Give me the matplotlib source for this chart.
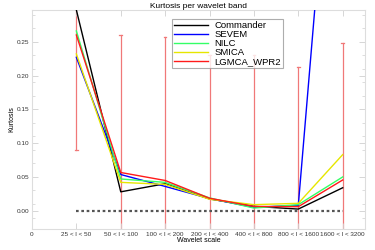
import matplotlib
matplotlib.use("Agg")
from matplotlib import pyplot as plt
from matplotlib.ticker import FixedLocator
import numpy as np

plt.rcParams['font.family'] = ['Liberation Sans', 'DejaVu Sans']

# wavelet bands (x positions 1..7)
bands = ["25 < l < 50", "50 < l < 100", "100 < l < 200", "200 < l < 400",
         "400 < l < 800", "800 < l < 1600", "1600 < l < 3200"]

commander = [0.297, 0.028, 0.040, 0.0175, 0.0065, 0.0025, 0.034]
sevem = [0.227, 0.0536, 0.036, 0.018, 0.005, 0.008, 0.79]
nilc = [0.266, 0.047, 0.042, 0.019, 0.004, 0.009, 0.050]
smica = [0.232, 0.042, 0.039, 0.017, 0.009, 0.011, 0.083]
lgmca = [0.260, 0.0566, 0.0448, 0.0185, 0.0064, 0.006, 0.0455]

# error band of the simulations (lower / upper), clipped by the axes
err_low = [0.090, -0.2, -0.2, -0.2, -0.2, -0.2, -0.2]
err_high = [0.5, 0.2595, 0.2565, 0.23, 0.23, 0.2131, 0.2476]

series = [
    ("Commander", commander, "black"),
    ("SEVEM", sevem, "#0000ff"),
    ("NILC", nilc, "#33ff66"),
    ("SMICA", smica, "#e6e600"),
    ("LGMCA_WPR2", lgmca, "#ff1a1a"),
]


def plot_kurtosis():
    fig = plt.figure(figsize=(3.75, 2.5), dpi=100)
    ax = fig.add_axes([0.0853, 0.084, 0.8877, 0.876])

    x = np.arange(1, len(bands) + 1)

    # error bars
    for xi, lo, hi in zip(x, err_low, err_high):
        ax.plot([xi, xi], [lo, hi], color="#f07878", lw=0.9, zorder=1)
        ax.plot([xi - 0.03, xi + 0.03], [hi, hi], color="#f07878", lw=0.9, zorder=1)
        ax.plot([xi - 0.03, xi + 0.03], [lo, lo], color="#f07878", lw=0.9, zorder=1)

    ax.plot([1, 7], [0, 0], color="#555555", ls=(0, (1.2, 1.2)), lw=1.6, zorder=2)

    for label, vals, color in series:
        ax.plot(x, vals, color=color, lw=1.0, label=label, zorder=3)

    ax.set_xlim(0, 7.5)
    ax.set_ylim(-0.027, 0.297)
    ax.set_xticks(np.arange(0, 8))
    ax.set_xticklabels(["0"] + bands)
    ax.set_yticks([0.0, 0.05, 0.10, 0.15, 0.20, 0.25])
    ax.set_yticklabels(["0.00", "0.05", "0.10", "0.15", "0.20", "0.25"])
    ax.yaxis.set_minor_locator(FixedLocator(np.arange(-0.01, 0.3, 0.02)))

    ax.tick_params(axis="both", which="both", direction="in", top=True, right=True,
                   color="#d0d0d0", labelsize=4.6, labelcolor="#333333", pad=2)
    ax.tick_params(which="major", length=4, width=0.6)
    ax.tick_params(which="minor", length=2, width=0.5)
    for s in ax.spines.values():
        s.set_color("#dddddd")
        s.set_linewidth(0.8)

    ax.set_title("Kurtosis per wavelet band", fontsize=6, pad=1.5)
    ax.set_xlabel("Wavelet scale", fontsize=5, labelpad=0.5)
    ax.set_ylabel("Kurtosis", fontsize=5, labelpad=1)

    leg = ax.legend(loc="upper left", bbox_to_anchor=(0.421, 0.96), fontsize=6.8,
                    frameon=True, fancybox=False, shadow=False, handlelength=3.6,
                    handletextpad=0.6, labelspacing=0.0, borderpad=0.25,
                    borderaxespad=0)
    leg.get_frame().set_edgecolor("#999999")
    leg.get_frame().set_linewidth(0.8)
    leg.set_zorder(5)
    for line in leg.get_lines():
        line.set_linewidth(1.0)

    fig.savefig("out.png", dpi=100)


if __name__ == "__main__":
    plot_kurtosis()
